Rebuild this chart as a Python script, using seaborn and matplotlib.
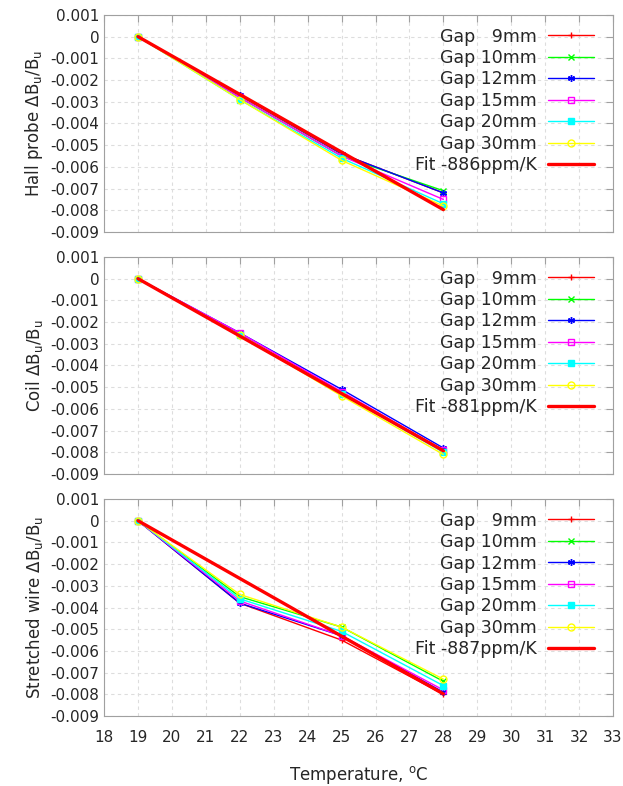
import seaborn as sns
from matplotlib import pyplot as plt
from matplotlib.ticker import FuncFormatter, MultipleLocator

temps = [19, 22, 25, 28]
gaps = ['Gap   9mm', 'Gap 10mm', 'Gap 12mm', 'Gap 15mm', 'Gap 20mm', 'Gap 30mm']

hall = {
    'Gap   9mm': [0, -0.0027, -0.0054, -0.0072],
    'Gap 10mm': [0, -0.0028, -0.0055, -0.0071],
    'Gap 12mm': [0, -0.0027, -0.0054, -0.0072],
    'Gap 15mm': [0, -0.0028, -0.0055, -0.0075],
    'Gap 20mm': [0, -0.0029, -0.0056, -0.0077],
    'Gap 30mm': [0, -0.0029, -0.0057, -0.0078],
}
hall_fit = [0, -0.00266, -0.00532, -0.00797]

coil = {
    'Gap   9mm': [0, -0.0026, -0.0053, -0.0079],
    'Gap 10mm': [0, -0.0026, -0.0053, -0.0079],
    'Gap 12mm': [0, -0.0025, -0.0051, -0.0078],
    'Gap 15mm': [0, -0.0025, -0.0052, -0.0079],
    'Gap 20mm': [0, -0.0026, -0.0053, -0.0080],
    'Gap 30mm': [0, -0.0026, -0.0054, -0.0081],
}
coil_fit = [0, -0.00264, -0.00529, -0.00793]

wire = {
    'Gap   9mm': [0, -0.0038, -0.0055, -0.0080],
    'Gap 10mm': [0, -0.0035, -0.0049, -0.0074],
    'Gap 12mm': [0, -0.0038, -0.0053, -0.0079],
    'Gap 15mm': [0, -0.0037, -0.0053, -0.0078],
    'Gap 20mm': [0, -0.0036, -0.0051, -0.0076],
    'Gap 30mm': [0, -0.0034, -0.0049, -0.0073],
}
wire_fit = [0, -0.00266, -0.00532, -0.00798]

panels = [
    ('Hall probe', hall, hall_fit, 'Fit -886ppm/K'),
    ('Coil', coil, coil_fit, 'Fit -881ppm/K'),
    ('Stretched wire', wire, wire_fit, 'Fit -887ppm/K'),
]

colors = ['#ff0000', '#00ff00', '#0000ff', '#ff00ff', '#00ffff', '#ffff00']
markers = ['+', 'x', (6, 2, 0), 's', 's', 'o']
filled = [True, True, True, False, True, False]

sns.set_style('white')
plt.rcParams['font.family'] = ['DejaVu Sans']
plt.rcParams['mathtext.default'] = 'regular'

fig, axes = plt.subplots(3, 1, figsize=(6.23, 7.86), dpi=100, sharex=True)
plt.subplots_adjust(left=0.167, right=0.984, top=0.981, bottom=0.089, hspace=0.115)

fmt = FuncFormatter(lambda v, p: '0' if abs(v) < 1e-9 else f'{v:.3f}')

for ax, (name, data, fit, fitlab) in zip(axes, panels):
    for i, g in enumerate(gaps):
        sns.lineplot(x=temps, y=data[g], ax=ax, color=colors[i], marker=markers[i],
                     markersize=5, markeredgecolor=colors[i], markeredgewidth=1,
                     markerfacecolor=colors[i] if filled[i] else 'none',
                     linewidth=1, label=g)
    sns.lineplot(x=temps, y=fit, ax=ax, color='#ff0000', linewidth=2.4, label=fitlab)
    ax.set_xlim(18, 33)
    ax.set_ylim(-0.009, 0.001)
    ax.xaxis.set_major_locator(MultipleLocator(1))
    ax.yaxis.set_major_locator(MultipleLocator(0.001))
    ax.yaxis.set_major_formatter(fmt)
    ax.tick_params(direction='in', length=5, color='#a0a0a0', top=True, right=True,
                   labelsize=11)
    ax.grid(True, linestyle=(0, (3, 3)), color='#dddddd', linewidth=0.8)
    for s in ax.spines.values():
        s.set_color('#a0a0a0')
    ax.set_ylabel(name + r' $\Delta B_u/B_u$', fontsize=12)
    ax.legend(loc='upper right', bbox_to_anchor=(0.984, 0.99), markerfirst=False,
              frameon=False, fontsize=12.5, handlelength=2.7, labelspacing=0.2,
              borderaxespad=0.3, handletextpad=0.6, borderpad=0.3)

axes[-1].set_xlabel('Temperature, $^o$C', fontsize=12, labelpad=14)
for ax in axes[:-1]:
    ax.tick_params(labelbottom=False)
axes[-1].tick_params(axis='x', pad=10)

plt.savefig('out.png', dpi=100)
